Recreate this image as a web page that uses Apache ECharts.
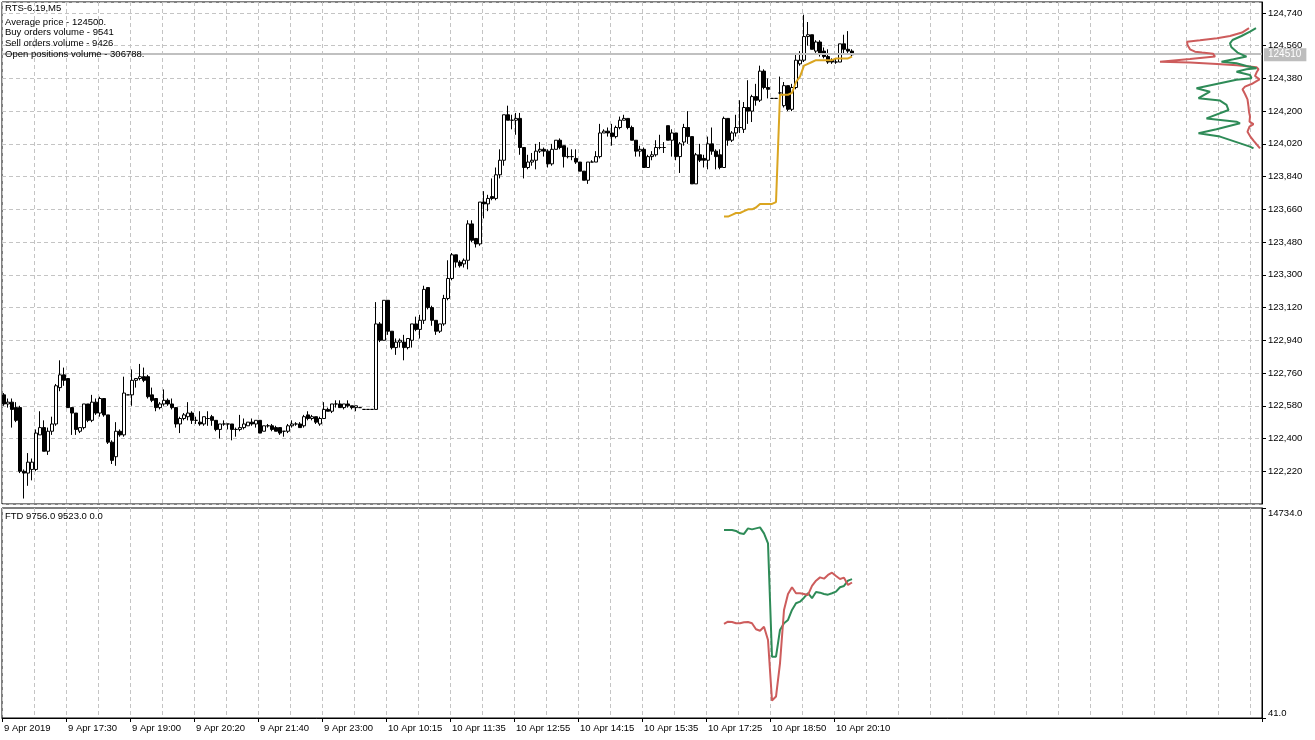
<!DOCTYPE html>
<html><head><meta charset="utf-8">
<script src="https://cdn.jsdelivr.net/npm/echarts@6/dist/echarts.min.js"></script>
<style>html,body{margin:0;padding:0;background:#fff}#c{width:1315px;height:740px}</style>
</head><body><div id="c"></div>
<script>
// ---- tick labels / layout counts
const tickLabels = ['9 Apr 2019','9 Apr 17:30','9 Apr 19:00','9 Apr 20:20','9 Apr 21:40','9 Apr 23:00','10 Apr 10:15','10 Apr 11:35','10 Apr 12:55','10 Apr 14:15','10 Apr 15:35','10 Apr 17:25','10 Apr 18:50','10 Apr 20:10'];
const barsPerLabel = 16;
const barsPerGrid = 8;
const slotCount = 315;

// ---- info text
const symbolText = 'RTS-6.19,M5';
const infoLines = ['Average price - 124500.', 'Buy orders volume - 9541', 'Sell orders volume - 9426', 'Open positions volume - 306788.'];

// ---- candles (M5)
const opens = [122640,122590,122600,122570,122570,122220,122210,122230,122230,122420,
122460,122330,122440,122480,122680,122750,122730,122570,122540,122440,
122460,122590,122500,122600,122540,122620,122530,122380,122300,122440,
122420,122640,122640,122720,122730,122740,122740,122640,122620,122570,
122590,122610,122590,122570,122480,122510,122520,122540,122500,122490,
122480,122510,122520,122500,122450,122480,122480,122480,122450,122450,
122460,122470,122490,122480,122500,122440,122470,122470,122460,122460,
122440,122440,122470,122480,122480,
122470,122530,122510,122520,122480,122510,122560,122550,122590,122590,
122570,122590,122580,122570,122570,122560,122560,122560,122560,123030,
122940,123160,122990,122900,122930,122930,122900,122940,123030,123000,
123050,123230,123120,123050,122990,123030,123170,123280,123410,123370,
123360,123380,123580,123500,123470,123700,123690,123730,123720,123850,
123930,124180,124150,124150,124160,124000,123890,123920,123930,123980,
123990,123980,123910,123990,124040,124010,123950,123950,123940,123920,
123870,123820,123920,123920,123950,124080,124090,124080,124060,124110,
124150,124160,124110,124040,123980,123990,123890,123950,123960,124000,
124000,124120,124040,124080,123950,124030,124110,124060,123800,123960,
123940,123930,124020,123980,123960,123890,124160,124040,124080,124110,
124100,124220,124200,124280,124260,124420,124330,124270,124270,124300,
124230,124340,124210,124330,124460,124480,124610,124620,124530,124580,
124530,124500,124480,124470,124470,124570,124540,124530];
const highs = [122650,122620,122620,122600,122580,122230,122320,122290,122450,122550,
122500,122460,122520,122700,122830,122790,122730,122570,122540,122460,
122590,122590,122640,122620,122630,122620,122530,122390,122490,122450,
122740,122640,122780,122730,122810,122790,122750,122680,122620,122600,
122670,122620,122620,122570,122520,122540,122600,122550,122520,122550,
122520,122550,122530,122500,122480,122500,122480,122480,122460,122530,
122510,122490,122510,122500,122500,122470,122480,122480,122470,122460,
122440,122480,122500,122490,122490,
122530,122550,122530,122520,122520,122600,122570,122590,122610,122610,
122590,122610,122580,122580,122570,122560,122560,122560,123150,123040,
123160,123160,122990,122950,122950,122970,122950,123030,123070,123080,
123240,123230,123130,123050,123030,123190,123380,123420,123410,123380,
123390,123600,123600,123500,123700,123760,123740,123830,123890,123990,
124180,124230,124180,124190,124190,124000,123960,123970,124020,124030,
124000,123990,124020,124040,124050,124010,124000,123990,123990,123920,
123870,123920,123930,123980,124130,124100,124110,124130,124120,124170,
124180,124160,124120,124040,124010,124000,123960,123980,124040,124070,
124030,124120,124100,124080,124030,124130,124200,124060,123970,124020,
123960,124060,124110,123990,123990,124170,124160,124090,124180,124260,
124250,124370,124290,124350,124450,124430,124380,124270,124270,124390,
124360,124340,124350,124520,124530,124730,124690,124620,124590,124590,
124550,124540,124490,124490,124570,124620,124640,124540];
const lows = [122580,122570,122460,122490,122210,122070,122140,122170,122220,122420,
122330,122310,122420,122470,122660,122690,122570,122420,122420,122430,
122450,122490,122490,122530,122520,122520,122370,122260,122250,122410,
122410,122640,122580,122680,122720,122710,122620,122600,122550,122560,
122580,122580,122560,122460,122430,122500,122500,122480,122480,122470,
122470,122470,122470,122440,122400,122470,122450,122390,122410,122440,
122450,122470,122470,122460,122430,122440,122460,122440,122440,122420,
122410,122430,122460,122470,122460,
122460,122500,122500,122480,122470,122510,122550,122540,122570,122570,
122560,122570,122560,122550,122570,122560,122560,122560,122560,122930,
122940,122970,122890,122860,122900,122830,122890,122900,122990,122950,
123030,123110,123020,122970,122980,123020,123160,123270,123340,123340,
123340,123330,123480,123450,123460,123610,123650,123710,123710,123830,
123900,124150,124100,124070,123960,123830,123880,123900,123880,123970,
123950,123890,123900,123990,123990,123890,123940,123930,123910,123870,
123820,123800,123920,123920,123940,124080,124060,124010,124050,124100,
124150,124100,124040,123950,123950,123890,123890,123930,123950,123990,
123970,124040,123950,123930,123860,124010,124020,123800,123800,123920,
123890,123880,123960,123880,123880,123890,124010,124030,124060,124080,
124080,124130,124140,124230,124250,124320,124270,124270,124270,124290,
124220,124200,124200,124320,124450,124470,124560,124540,124520,124500,
124490,124460,124460,124460,124470,124510,124520,124500];
const closes = [122590,122600,122560,122500,122220,122210,122270,122270,122430,122460,
122330,122440,122480,122690,122750,122720,122570,122540,122450,122460,
122590,122500,122600,122540,122620,122530,122380,122280,122440,122420,
122650,122640,122720,122730,122740,122720,122630,122610,122570,122590,
122610,122590,122570,122480,122510,122530,122540,122500,122500,122480,
122520,122510,122500,122450,122480,122480,122480,122450,122450,122460,
122480,122490,122480,122500,122430,122470,122470,122450,122440,122430,
122440,122470,122480,122480,122460,
122520,122510,122520,122490,122510,122560,122550,122590,122590,122570,
122590,122580,122570,122580,122570,122560,122560,122560,123030,122940,
123160,122990,122900,122930,122940,122900,122950,123030,123000,123050,
123220,123120,123050,122990,123030,123170,123280,123410,123370,123350,
123380,123580,123490,123470,123700,123690,123720,123720,123850,123930,
124180,124150,124150,124160,124000,123890,123920,123930,123980,123990,
123980,123910,123990,124040,124000,123950,123950,123950,123920,123870,
123820,123920,123920,123950,124080,124090,124080,124060,124110,124150,
124160,124110,124040,123980,123990,123890,123950,123960,124000,124000,
124000,124040,124080,123950,124020,124110,124060,123800,123960,123930,
123930,124020,123980,123950,123890,124160,124040,124080,124110,124110,
124220,124200,124280,124260,124420,124330,124320,124270,124270,124300,
124340,124210,124330,124480,124480,124610,124620,124540,124580,124520,
124500,124470,124470,124470,124570,124540,124530,124510];
const bidPrice = 124510;
const askPrice = 124520;

// ---- average price line (starts at bar 180)
const seriesStart = 180;
const avgPrice = [123620,123620,123630,123640,123640,123650,123660,123660,123670,123690,123690,123690,123690,123700,124290,124290,124290,124300,124360,124390,124450,124460,124470,124480,124480,124480,124480,124480,124490,124490,124490,124490,124500];

// ---- FTD sub-window (buy / sell volume), from bar 180
const ftdBuy = [13200,13200,13200,13130,12960,12920,13310,13240,13310,13380,12960,12260,4330,4330,6200,6670,6900,7600,8070,8180,8460,8770,8420,8860,8810,8720,8670,8770,8880,9190,9280,9650,9756];
const ftdSell = [6620,6780,6760,6670,6670,6740,6760,6670,6250,6150,6430,5500,1260,1540,3870,7600,8720,9190,8770,8770,8720,8650,9280,9650,9880,9790,10050,10210,9980,9770,9860,9350,9523];
const ftdThird = 0;
const ftdMin = 41, ftdMax = 14734;

// ---- volume profile by price: [volume, price]
const profileSell = [[130,124656],[200,124632],[320,124613],[450,124601],[620,124590],[750,124582],[745,124564],[720,124540],[670,124527],[600,124522],[490,124516],[470,124500],[720,124487],[1020,124472],[1020,124467],[720,124467],[450,124459],[250,124452],[55,124441],[35,124430],[55,124412],[70,124393],[25,124375],[105,124349],[170,124335],[195,124320],[170,124294],[145,124265],[135,124225],[130,124197],[120,124170],[125,124142],[85,124129],[125,124115],[145,124087],[120,124063],[85,124038],[20,123995]];
const profileBuy = [[60,124656],[120,124637],[205,124613],[295,124591],[320,124573],[305,124551],[245,124522],[155,124500],[285,124485],[405,124472],[255,124463],[155,124448],[55,124436],[155,124430],[255,124417],[120,124399],[105,124381],[255,124372],[655,124326],[520,124307],[635,124271],[420,124258],[355,124234],[335,124206],[555,124160],[255,124142],[220,124133],[455,124100],[635,124078],[420,124060],[120,124005],[85,123995]];
const profileVolMax = 12600;

// ---- build
const FONT = 'Liberation Sans';
const FS = 9.5;
const slots = Array.from({length: slotCount}, (_, i) => String(i));
const candleData = opens.map((o, i) => [o, closes[i], lows[i], highs[i]]);
const toPairs = arr => arr.map((v, k) => [seriesStart + k, v]);
const gridLine = {show: true, lineStyle: {color: '#c4c4c4', type: [4, 3], width: 1}};
const ftdTitle = 'FTD ' + ftdBuy[ftdBuy.length - 1].toFixed(1) + ' ' + ftdSell[ftdSell.length - 1].toFixed(1) + ' ' + ftdThird.toFixed(1);
const isLabelSlot = idx => idx % barsPerLabel === 0 && idx / barsPerLabel < tickLabels.length;

const chart = echarts.init(document.getElementById('c'), null, {renderer: 'canvas'});
chart.setOption({
  animation: false,
  backgroundColor: '#fff',
  textStyle: {fontFamily: FONT},
  title: [
    {text: symbolText, left: 5, top: 3.5, padding: 0, textStyle: {fontSize: FS, fontWeight: 'normal', color: '#000', fontFamily: FONT}},
    {text: infoLines.join('\n'), left: 5, top: 16.6, padding: 0, textStyle: {fontSize: FS, fontWeight: 'normal', color: '#000', fontFamily: FONT, lineHeight: 10.8}},
    {text: ftdTitle, left: 5, top: 511.5, padding: 0, textStyle: {fontSize: FS, fontWeight: 'normal', color: '#000', fontFamily: FONT}}
  ],
  grid: [
    {left: 2, top: 2, width: 1260, height: 502, show: true, borderColor: '#000', borderWidth: 1, backgroundColor: 'transparent'},
    {left: 2, top: 508, width: 1260, height: 210, show: true, borderColor: '#000', borderWidth: 1, backgroundColor: 'transparent'}
  ],
  xAxis: [
    {type: 'category', gridIndex: 0, data: slots, boundaryGap: true,
     axisLine: {show: false}, axisTick: {show: false}, axisLabel: {show: false},
     splitLine: Object.assign({interval: barsPerGrid - 1}, gridLine)},
    {type: 'value', gridIndex: 0, show: false, inverse: true, min: 0, max: profileVolMax, position: 'top'},
    {type: 'category', gridIndex: 1, data: slots, boundaryGap: true,
     axisLine: {show: true, lineStyle: {color: '#000'}},
     axisTick: {show: true, interval: (idx) => isLabelSlot(idx), length: 4, lineStyle: {color: '#000'}},
     axisLabel: {interval: barsPerLabel - 1, align: 'left', margin: 5, color: '#000', fontSize: FS, fontFamily: FONT,
       formatter: (v, idx) => isLabelSlot(idx) ? tickLabels[idx / barsPerLabel] : ''},
     splitLine: Object.assign({interval: barsPerGrid - 1}, gridLine)}
  ],
  yAxis: [
    {type: 'value', gridIndex: 0, position: 'right', min: 122040, max: 124800, interval: 180,
     axisLine: {show: true, lineStyle: {color: '#000'}},
     axisTick: {show: true, length: 4, lineStyle: {color: '#000'}},
     axisLabel: {color: '#000', fontSize: FS, fontFamily: FONT, margin: 6, showMinLabel: false, showMaxLabel: false},
     splitLine: gridLine},
    {type: 'value', gridIndex: 1, position: 'right', min: ftdMin, max: ftdMax,
     axisLine: {show: true, lineStyle: {color: '#000'}},
     axisTick: {show: true, length: 4, customValues: [ftdMin, ftdMax], lineStyle: {color: '#000'}},
     axisLabel: {color: '#000', fontSize: FS, fontFamily: FONT, margin: 6, customValues: [ftdMin, ftdMax],
       formatter: v => (v >= ftdMax ? '{t|' : '{b|') + v.toFixed(1) + '}',
       rich: {t: {padding: [10, 0, 0, 0], fontSize: FS, fontFamily: FONT, color: '#000'},
              b: {padding: [0, 0, 10, 0], fontSize: FS, fontFamily: FONT, color: '#000'}}},
     splitLine: {show: false}}
  ],
  series: [
    {type: 'candlestick', xAxisIndex: 0, yAxisIndex: 0, data: candleData, barWidth: 3,
     itemStyle: {color: '#fff', color0: '#000', borderColor: '#000', borderColor0: '#000', borderColorDoji: '#000', borderWidth: 1},
     markLine: {symbol: 'none', silent: true, animation: false,
       lineStyle: {color: '#c0c0c0', type: 'solid', width: 1},
       data: [
         {yAxis: bidPrice, label: {show: true, position: 'end', distance: 2, formatter: String(bidPrice), color: '#fff', backgroundColor: '#bdbdbd', padding: [2, 5, 1, 4], fontSize: 10, fontFamily: FONT}},
         {yAxis: askPrice, label: {show: false}}
       ]}},
    {type: 'line', xAxisIndex: 0, yAxisIndex: 0, data: toPairs(avgPrice), showSymbol: false, lineStyle: {color: '#DAA520', width: 2}, z: 5},
    {type: 'line', xAxisIndex: 1, yAxisIndex: 0, data: profileSell, showSymbol: false, lineStyle: {color: '#CD5C5C', width: 2}, z: 5},
    {type: 'line', xAxisIndex: 1, yAxisIndex: 0, data: profileBuy, showSymbol: false, lineStyle: {color: '#2E8B57', width: 2}, z: 6},
    {type: 'line', xAxisIndex: 2, yAxisIndex: 1, data: toPairs(ftdBuy), showSymbol: false, lineStyle: {color: '#2E8B57', width: 2}},
    {type: 'line', xAxisIndex: 2, yAxisIndex: 1, data: toPairs(ftdSell), showSymbol: false, lineStyle: {color: '#CD5C5C', width: 2}}
  ]
});
</script>
</body></html>
